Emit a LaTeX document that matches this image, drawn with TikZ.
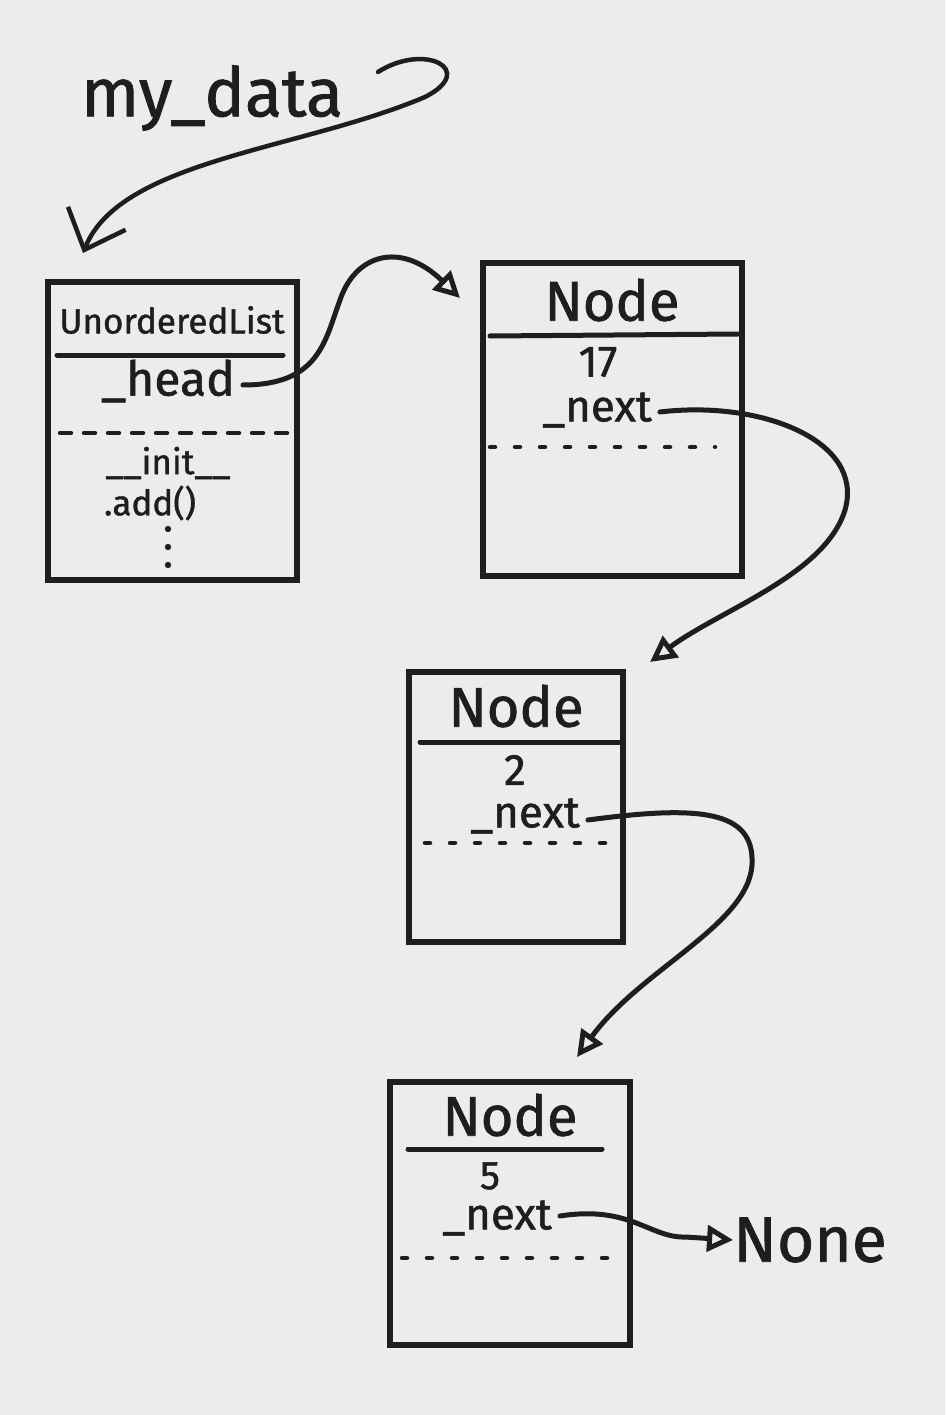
\documentclass[tikz,border=0pt]{standalone}
\usepackage{fontspec}
\setmainfont{Fira Sans}[FakeBold=1.2]
\usetikzlibrary{arrows.meta}
\definecolor{paper}{RGB}{236,236,234}
\definecolor{ink}{RGB}{30,30,30}
\begin{document}
\begin{tikzpicture}[x=1pt,y=-1pt,
  box/.style={draw=ink,line width=5.5pt,rectangle,inner sep=0pt},
  divider/.style={draw=ink,line width=5pt,line cap=round},
  dotline/.style={draw=ink,line width=4.5pt,line cap=round,dash pattern=on 5pt off 20pt},
  dashline/.style={draw=ink,line width=4.5pt,line cap=round,dash pattern=on 11pt off 13pt},
  link/.style={draw=ink,line width=5pt,line cap=round,-{Triangle[open,length=26pt,width=26pt]}},
  txt/.style={text=ink,inner sep=0pt,anchor=center},
  big/.style={txt,font=\fontsize{56}{62}\selectfont},
  mid/.style={txt,font=\fontsize{44}{50}\selectfont},
  small/.style={txt,font=\fontsize{35}{40}\selectfont}]
\fill[paper] (0,0) rectangle (945,1415);
\useasboundingbox (0,0) rectangle (945,1415);

% boxes
\node[box,minimum width=249pt,minimum height=298pt] (ul) at (172.5,431) {};
\node[box,minimum width=259pt,minimum height=313pt] (n17) at (612.5,419.5) {};
\node[box,minimum width=214pt,minimum height=270pt] (n2) at (516,807) {};
\node[box,minimum width=240pt,minimum height=263pt] (n5) at (510,1213.5) {};

% dividers
\draw[divider] (57,355) -- (283,355);
\draw[divider] (490,336) -- (738,334);
\draw[divider] (420,742) -- (620,742);
\draw[divider] (408,1149) -- (602,1149);

% dotted separators
\draw[dashline] (60,433) -- (287,433);
\draw[dotline] (490,447) -- (715,447);
\draw[dotline] (425,843) -- (615,843);
\draw[dotline] (402,1258) -- (625,1258);

% texts
\node[txt,font=\fontsize{68}{74}\selectfont] (mydata) at (212,98) {my\_data};
\node[small] (ultitle) at (172,320) {UnorderedList};
\node[mid,font=\fontsize{48}{54}\selectfont] (head) at (168,381) {\_head};
\node[small] (init) at (168,463) {\_\_init\_\_};
\node[small] (add) at (150,503) {.add()};
\foreach \k/\yy in {1/529,2/547,3/565} \fill[ink] (168,\yy) circle (3.2pt) coordinate (dot\k);

\node[big] (t17) at (612,300) {Node};
\node[mid] (v17) at (598,362) {17};
\node[mid] (x17) at (597,410) {\_next};

\node[big] (t2) at (516,706) {Node};
\node[mid] (v2) at (515,770) {2};
\node[mid] (x2) at (525,816) {\_next};

\node[big] (t5) at (510,1115) {Node};
\node[txt,font=\fontsize{40}{44}\selectfont] (v5) at (490,1176) {5};
\node[mid] (x5) at (497,1218) {\_next};

\node[txt,font=\fontsize{64}{70}\selectfont] (none) at (810,1240) {None};

% connector end points
\coordinate (mdstart) at (378,72);
\coordinate (mdtip) at (83,253);
\coordinate (n17tip) at (460,298);
\coordinate (n2tip) at (650,662);
\coordinate (n5tip) at (577,1057);

% connectors
\draw[draw=ink,line width=4.5pt,line cap=round,-{Straight Barb[length=34pt,width=62pt]}]
  (mdstart) .. controls (425,42) and (478,70) .. (425,97)
  .. controls (300,150) and (120,160) .. (mdtip);
\draw[link] (head.east) ++(8,4) .. controls (320,385) and (325,340) .. (340,300)
  .. controls (355,255) and (400,240) .. (n17tip);
\draw[link] (x17.east) ++(8,2) .. controls (760,400) and (865,440) .. (845,510)
  .. controls (825,575) and (720,610) .. (n2tip);
\draw[link] (x2.east) ++(8,4) .. controls (700,805) and (755,810) .. (752,865)
  .. controls (748,925) and (640,970) .. (n5tip);
\draw[link] (x5.east) ++(8,-2) .. controls (630,1205) and (650,1238) .. (685,1237)
  -- (none.west);
\end{tikzpicture}
\end{document}
